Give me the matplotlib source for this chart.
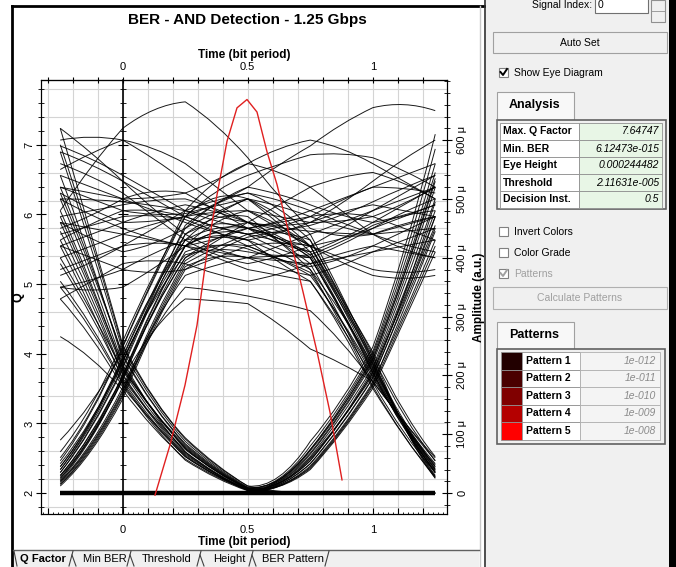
import matplotlib
matplotlib.use("Agg")
import matplotlib.pyplot as plt
from matplotlib.patches import Rectangle, PathPatch
from matplotlib.path import Path
from matplotlib.ticker import FixedLocator, MultipleLocator, FuncFormatter

plt.rcParams['font.family'] = ['Liberation Sans', 'DejaVu Sans']

# sample times of every eye trace (bit periods)
t = [-0.25, -0.125, 0, 0.125, 0.25, 0.375, 0.5, 0.625, 0.75, 0.875, 1.0, 1.125, 1.25]

# eye traces, amplitude in micro units
zero_trace = [0, 0, 0, 0, 0, 0, 0, 0, 0, 0, 0, 0, 0]
falls = [  # 1 -> 0 -> 0
    [520, 395, 232, 140, 82, 36, 9, 0, 0, 0, 0, 0, 0],
    [430, 330, 200, 118, 64, 26, 5, 0, 0, 0, 0, 0, 0],
    [592, 435, 248, 150, 92, 42, 12, 0, 0, 0, 0, 0, 0],
    [350, 285, 185, 108, 56, 22, 4, 0, 0, 0, 0, 0, 0],
    [470, 355, 215, 132, 78, 34, 8, 0, 0, 0, 0, 0, 0],
    [266, 235, 175, 104, 58, 24, 5, 0, 0, 0, 0, 0, 0],
    [400, 312, 208, 126, 70, 30, 6, 0, 0, 0, 0, 0, 0],
]
dips = [  # 1 -> 0 -> 1
    [500, 375, 218, 132, 76, 32, 7, 2, 55, 118, 210, 335, 480],
    [420, 318, 192, 114, 62, 25, 5, 0, 46, 104, 188, 300, 430],
    [580, 420, 242, 146, 88, 40, 10, 4, 72, 135, 232, 365, 545],
    [360, 292, 188, 110, 62, 26, 6, 2, 60, 120, 200, 325, 495],
    [460, 348, 210, 134, 80, 35, 8, 5, 80, 145, 240, 385, 585],
    [540, 400, 225, 126, 70, 28, 5, 0, 40, 98, 178, 290, 410],
    [390, 308, 195, 122, 74, 33, 8, 3, 66, 130, 222, 350, 520],
    [620, 440, 252, 150, 94, 44, 12, 6, 88, 150, 248, 395, 610],
    [480, 362, 212, 132, 76, 32, 7, 2, 58, 116, 205, 330, 455],
    [330, 272, 180, 115, 66, 28, 6, 1, 50, 110, 195, 318, 470],
    [445, 340, 202, 120, 68, 28, 5, 0, 44, 102, 185, 310, 445],
    [510, 385, 235, 140, 84, 38, 9, 4, 74, 138, 228, 360, 535],
]
late_rises = [  # 0 -> 0 -> 1
    [0, 0, 0, 0, 0, 0, 0, 4, 55, 118, 205, 330, 470],
    [0, 0, 0, 0, 0, 0, 0, 8, 74, 140, 236, 375, 560],
    [0, 0, 0, 0, 0, 0, 0, 2, 42, 100, 182, 295, 420],
    [0, 0, 0, 0, 0, 0, 0, 6, 62, 126, 214, 345, 500],
    [0, 0, 0, 0, 0, 0, 0, 3, 50, 112, 196, 318, 450],
    [0, 0, 0, 0, 0, 0, 0, 7, 68, 132, 226, 360, 530],
]
pulses = [  # 0 -> 1 -> 0
    [25, 82, 195, 320, 400, 430, 420, 400, 370, 300, 205, 110, 45],
    [40, 108, 230, 350, 440, 480, 470, 430, 380, 312, 218, 108, 35],
    [20, 70, 175, 290, 350, 345, 335, 325, 310, 262, 190, 118, 60],
    [55, 125, 248, 370, 470, 520, 500, 460, 410, 322, 228, 102, 30],
    [30, 92, 200, 330, 420, 450, 430, 390, 360, 288, 196, 112, 50],
    [15, 66, 168, 300, 390, 420, 440, 450, 430, 335, 236, 98, 25],
    [90, 145, 240, 355, 430, 460, 450, 440, 400, 316, 212, 110, 40],
    [35, 102, 215, 345, 455, 500, 510, 490, 440, 342, 226, 100, 28],
    [22, 80, 195, 290, 330, 328, 322, 290, 245, 222, 190, 120, 55],
    [45, 110, 225, 340, 420, 470, 480, 460, 420, 330, 220, 104, 34],
]
rises = [  # 0 -> 1 -> 1
    [25, 85, 200, 320, 400, 440, 450, 460, 470, 480, 470, 450, 430],
    [45, 112, 232, 352, 450, 500, 520, 510, 490, 470, 460, 470, 490],
    [20, 74, 180, 298, 370, 390, 400, 420, 440, 460, 480, 500, 520],
    [60, 128, 250, 372, 480, 540, 560, 550, 520, 480, 440, 410, 400],
    [30, 90, 198, 326, 420, 455, 440, 410, 400, 420, 450, 480, 500],
    [18, 68, 172, 306, 395, 430, 460, 490, 520, 540, 545, 530, 500],
    [35, 100, 212, 338, 440, 470, 450, 420, 410, 430, 460, 490, 520],
    [70, 135, 258, 380, 470, 520, 540, 560, 575, 580, 570, 550, 520],
    [28, 86, 192, 322, 410, 430, 415, 395, 385, 395, 420, 445, 470],
    [12, 60, 160, 290, 380, 415, 435, 445, 455, 470, 495, 520, 540],
    [50, 115, 225, 340, 405, 420, 410, 400, 405, 425, 455, 475, 480],
    [40, 105, 222, 345, 430, 480, 500, 490, 470, 450, 440, 455, 470],
    [15, 62, 165, 295, 385, 410, 400, 380, 370, 385, 410, 430, 450],
]
late_falls = [  # 1 -> 1 -> 0
    [500, 470, 450, 430, 420, 430, 450, 440, 400, 312, 210, 105, 40],
    [420, 440, 460, 480, 490, 480, 460, 430, 390, 298, 188, 95, 35],
    [580, 560, 530, 500, 470, 450, 440, 430, 410, 330, 232, 122, 55],
    [350, 360, 380, 410, 430, 440, 430, 410, 380, 290, 182, 90, 28],
    [460, 430, 410, 420, 450, 480, 500, 480, 430, 335, 222, 112, 45],
    [550, 580, 600, 590, 560, 520, 480, 450, 420, 332, 240, 128, 62],
    [380, 400, 420, 430, 420, 400, 380, 370, 360, 285, 178, 92, 26],
    [620, 580, 530, 480, 440, 410, 400, 405, 400, 312, 205, 100, 38],
    [440, 455, 470, 475, 465, 445, 420, 400, 375, 296, 200, 106, 48],
    [520, 500, 480, 470, 475, 490, 500, 470, 420, 322, 215, 110, 42],
    [470, 480, 490, 500, 500, 485, 460, 440, 405, 318, 205, 102, 36],
]
ones = [  # 1 -> 1 -> 1
    [480, 560, 620, 660, 665, 630, 570, 500, 450, 430, 440, 460, 470],
    [400, 420, 440, 460, 470, 490, 520, 560, 590, 630, 655, 668, 650],
    [540, 520, 500, 480, 460, 440, 430, 440, 460, 480, 490, 480, 470],
    [450, 470, 500, 520, 510, 480, 450, 430, 420, 430, 450, 470, 490],
    [590, 570, 540, 510, 480, 460, 450, 460, 480, 500, 520, 540, 560],
    [330, 360, 390, 400, 390, 370, 360, 370, 390, 410, 420, 410, 400],
    [500, 500, 495, 490, 480, 470, 460, 450, 445, 440, 440, 445, 450],
    [420, 400, 380, 370, 380, 400, 420, 430, 420, 400, 380, 370, 380],
    [560, 540, 510, 470, 430, 400, 390, 400, 420, 450, 480, 510, 540],
    [370, 390, 420, 450, 480, 500, 510, 500, 480, 460, 440, 420, 410],
    [520, 510, 500, 500, 510, 530, 560, 590, 600, 590, 560, 530, 500],
    [460, 450, 440, 430, 420, 410, 400, 395, 390, 400, 410, 420, 430],
    [600, 610, 600, 570, 530, 490, 460, 450, 460, 490, 530, 570, 600],
    [350, 340, 350, 380, 420, 450, 460, 450, 420, 390, 370, 360, 370],
    [430, 460, 480, 485, 470, 450, 440, 450, 470, 500, 520, 520, 510],
    [510, 480, 460, 460, 470, 480, 480, 470, 460, 460, 470, 490, 520],
]

# Q factor vs decision instant (red curve)
q_time = [0.129, 0.189, 0.249, 0.297, 0.337, 0.377, 0.417, 0.457, 0.497,
          0.537, 0.577, 0.617, 0.669, 0.721, 0.777, 0.829, 0.877]
q_vals = [1.97, 2.69, 3.55, 4.41, 5.46, 6.28, 7.05, 7.53, 7.65,
          7.47, 6.90, 6.43, 5.66, 4.89, 4.03, 3.16, 2.19]

# side panel contents
analysis_names = ['Max. Q Factor', 'Min. BER', 'Eye Height', 'Threshold', 'Decision Inst.']
analysis_values = ['7.64747', '6.12473e-015', '0.000244482', '2.11631e-005', '0.5']
pattern_names = ['Pattern 1', 'Pattern 2', 'Pattern 3', 'Pattern 4', 'Pattern 5']
pattern_values = ['1e-012', '1e-011', '1e-010', '1e-009', '1e-008']
pattern_colors = ['#220000', '#4a0000', '#800000', '#b40000', '#ff0000']
tab_names = ['Q Factor', 'Min BER', 'Threshold', 'Height', 'BER Pattern']
amp_ticks = [0, 100, 200, 300, 400, 500, 600]

q_lo, q_hi = 1.70, 7.93
amp_per_q = 118.4   # micro units per Q unit (both axes share the frame)

fig = plt.figure(figsize=(6.76, 5.67), dpi=100)

# ---- window chrome, drawn in pixel coords
gui = fig.add_axes([0, 0, 1, 1])
gui.set_xlim(0, 676)
gui.set_ylim(567, 0)
gui.axis('off')

def box(x0, y0, x1, y1, fc, ec='none', lw=0.8):
    gui.add_patch(Rectangle((x0, y0), x1 - x0, y1 - y0, facecolor=fc,
                            edgecolor=ec, linewidth=lw))

def label(x, y, s, size=7.5, **kw):
    gui.text(x, y, s, fontsize=size, va='center', **kw)

box(486, 0, 669, 567, '#f0f0f0')
box(669, 0, 676, 567, 'black')
gui.plot([12, 12], [6, 567], color='black', lw=2)
gui.plot([12, 484], [6, 6], color='black', lw=2)
gui.plot([480, 480], [6, 567], color='#c8c8c8', lw=1)
gui.plot([484.5, 484.5], [0, 567], color='#303030', lw=1.2)

# bottom tabs
box(13, 550, 479, 567, '#f0f0f0')
gui.plot([13, 479], [550, 550], color='#606060', lw=1)
for xs in [72, 130, 200, 252]:
    gui.plot([xs - 3, xs + 1], [566, 551], color='#404040', lw=0.8)
    gui.plot([xs, xs + 4], [555, 566], color='#404040', lw=0.8)
gui.plot([14, 17], [551, 566], color='#404040', lw=0.8)
gui.plot([325, 329], [566, 551], color='#404040', lw=0.8)
for name, x in zip(tab_names, [20, 83, 142, 213, 262]):
    label(x, 559, name, size=8, fontweight='bold' if name == 'Q Factor' else 'normal')

# signal index + auto set
label(592, 5, 'Signal Index:', ha='right')
box(595, -2, 648, 13, 'white', '#707070')
label(598, 5, '0')
box(651, 0, 665, 22, '#f0f0f0', '#909090')
gui.plot([651, 665], [11, 11], color='#909090', lw=0.6)
box(493, 32, 667, 53, '#f0f0f0', '#a0a0a0')
label(580, 43, 'Auto Set', ha='center')

def checkbox(y, text, checked, color='black'):
    box(499, y - 5, 508, y + 4, 'white', '#808080')
    if checked:
        gui.plot([500.5, 503, 507], [y - 1, y + 2, y - 4], color=color, lw=1.4)
    label(514, y, text, color=color)

checkbox(73, 'Show Eye Diagram', True)

# analysis tab + table
box(497, 92, 574, 120, '#f8f8f8', '#a0a0a0')
label(509, 105, 'Analysis', size=9, fontweight='bold')
box(497, 120, 666, 209, '#f0f0f0', '#606060', lw=1.2)
row_h = 17
for i, (name, val) in enumerate(zip(analysis_names, analysis_values)):
    y0 = 123 + i * row_h
    box(500, y0, 579, y0 + row_h, 'white', '#909090', lw=0.6)
    box(579, y0, 662, y0 + row_h, '#e8f6e6', '#909090', lw=0.6)
    label(503, y0 + row_h / 2, name, fontweight='bold')
    label(659, y0 + row_h / 2, val, ha='right', style='italic')

checkbox(232, 'Invert Colors', False)
checkbox(253, 'Color Grade', False)
checkbox(274, 'Patterns', True, color='#a0a0a0')
box(493, 287, 667, 309, '#f0f0f0', '#b0b0b0')
label(580, 298, 'Calculate Patterns', ha='center', color='#a0a0a0')

# patterns tab + table
box(497, 322, 574, 349, '#f8f8f8', '#a0a0a0')
label(509, 335, 'Patterns', size=9, fontweight='bold')
box(497, 349, 665, 444, '#f0f0f0', '#606060', lw=1.2)
for i, (name, val, col) in enumerate(zip(pattern_names, pattern_values, pattern_colors)):
    y0 = 352 + i * 17.5
    box(501, y0, 522, y0 + 17.5, col, '#909090', lw=0.6)
    box(522, y0, 580, y0 + 17.5, 'white', '#909090', lw=0.6)
    box(580, y0, 660, y0 + 17.5, '#f4f4f4', '#b0b0b0', lw=0.6)
    label(526, y0 + 8.75, name, fontweight='bold')
    label(656, y0 + 8.75, val, ha='right', style='italic', color='#8a8a8a')

fig.text(247 / 676, 1 - 20 / 567, 'BER - AND Detection - 1.25 Gbps',
         ha='center', va='center', fontsize=11, fontweight='bold')

# ---- plot area
ax = fig.add_axes([41 / 676, 1 - 514 / 567, 406 / 676, 434 / 567])
ax.set_xlim(-0.327, 1.297)
ax.set_ylim(q_lo, q_hi)
for k in range(-3, 13):
    ax.axvline(k / 10, color='#d4d4d4', lw=0.8, zorder=0)
for k in range(16):
    ax.axhline(1.8 + 0.4 * k, color='#d4d4d4', lw=0.8, zorder=0)

bit_fmt = FuncFormatter(lambda v, p: {0: '0', 5: '0.5', 10: '1'}.get(int(round(v * 10)), ''))
ax.xaxis.set_major_locator(FixedLocator([k / 10 for k in range(-3, 13)]))
ax.xaxis.set_minor_locator(MultipleLocator(0.02))
ax.xaxis.set_major_formatter(bit_fmt)
ax.tick_params(axis='x', which='major', direction='in', length=4, pad=8, labelsize=8)
ax.tick_params(axis='x', which='minor', direction='in', length=1.5)
ax.set_xlabel('Time (bit period)', fontsize=8.5, fontweight='bold', labelpad=1)

ax.yaxis.set_major_locator(MultipleLocator(1))
ax.yaxis.set_minor_locator(MultipleLocator(0.2))
ax.tick_params(axis='y', which='major', direction='inout', length=7, labelsize=8,
               labelrotation=90, pad=1)
ax.tick_params(axis='y', which='minor', direction='inout', length=4)
for lab in ax.get_yticklabels():
    lab.set_va('center')
ax.set_ylabel('Q', fontsize=9, fontweight='bold', labelpad=0)

top = ax.secondary_xaxis('top')
top.xaxis.set_major_locator(FixedLocator([k / 10 for k in range(-3, 13)]))
top.xaxis.set_major_formatter(bit_fmt)
top.tick_params(axis='x', direction='inout', length=5, pad=3, labelsize=8)
top.set_xlabel('Time (bit period)', fontsize=8.5, fontweight='bold', labelpad=3)

# amplitude axis with the eye traces
axA = ax.twinx()
axA.set_ylim((q_lo - 2) * amp_per_q, (q_hi - 2) * amp_per_q)
axA.yaxis.set_major_locator(FixedLocator(amp_ticks))
axA.yaxis.set_minor_locator(MultipleLocator(20))
axA.yaxis.set_major_formatter(FuncFormatter(
    lambda v, p: '0' if abs(v) < 1e-9 else f'{v:.0f} \u03bc'))
axA.tick_params(axis='y', which='major', direction='inout', length=7, labelsize=8,
                labelrotation=90, pad=4)
axA.tick_params(axis='y', which='minor', direction='inout', length=4)
for lab in axA.get_yticklabels():
    lab.set_va('center')
axA.set_ylabel('Amplitude (a.u.)', fontsize=8.5, fontweight='bold', labelpad=4)

# each trace is rendered as a smooth quadratic path through its samples
curve_codes = [Path.MOVETO] + [Path.CURVE3] * (len(t) - 1)
for group in [falls, dips, late_rises, pulses, rises, late_falls, ones]:
    for trace in group:
        axA.add_patch(PathPatch(Path(list(zip(t, trace)), curve_codes),
                                fill=False, edgecolor='black', lw=0.7, alpha=0.9))
axA.plot(t, zero_trace, color='black', lw=3.2, solid_capstyle='butt')

# Q curve on top, with the Q axis repeated at t = 0
axR = ax.twinx()
axR.set_ylim(q_lo, q_hi)
axR.plot(q_time, q_vals, color='#e02020', lw=1)
axR.spines['left'].set_position(('data', 0))
axR.spines['left'].set_linewidth(1.2)
for side in ['right', 'top', 'bottom']:
    axR.spines[side].set_visible(False)
axR.yaxis.set_ticks_position('left')
axR.yaxis.set_major_locator(MultipleLocator(1))
axR.yaxis.set_minor_locator(MultipleLocator(0.2))
axR.tick_params(axis='y', which='major', direction='inout', length=7, labelleft=False)
axR.tick_params(axis='y', which='minor', direction='inout', length=4)

fig.savefig('out.png', dpi=100)
